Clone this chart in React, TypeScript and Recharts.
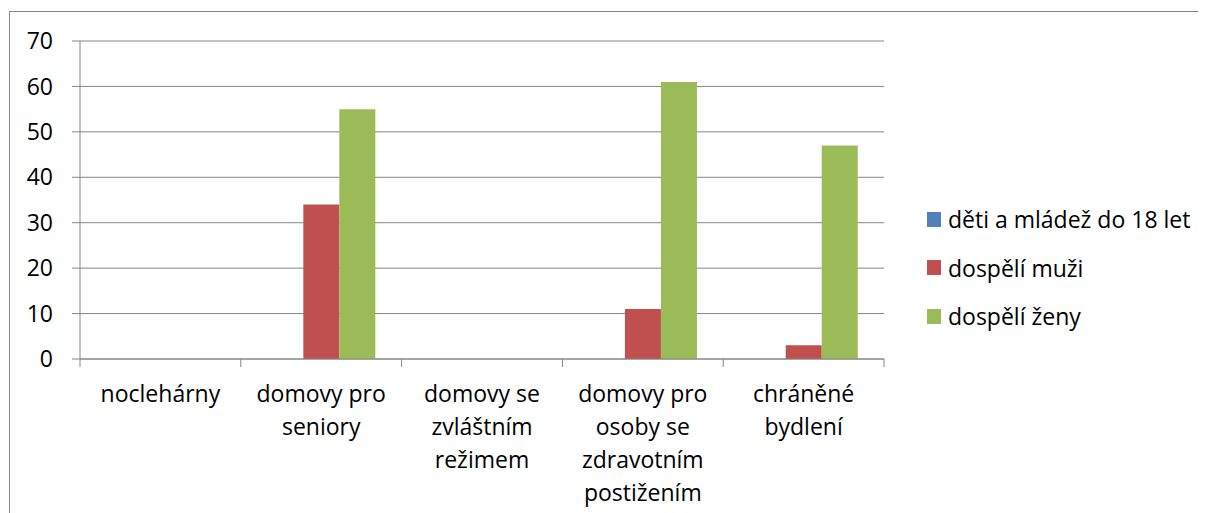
import React from "react";
import { BarChart, Bar, XAxis, YAxis, CartesianGrid, Legend } from "recharts";

const categories = [
  "noclehárny",
  "domovy pro seniory",
  "domovy se zvláštním režimem",
  "domovy pro osoby se zdravotním postižením",
  "chráněné bydlení",
];
const categoryLines = [
  ["noclehárny"],
  ["domovy pro", "seniory"],
  ["domovy se", "zvláštním", "režimem"],
  ["domovy pro", "osoby se", "zdravotním", "postižením"],
  ["chráněné", "bydlení"],
];
const seriesNames = ["děti a mládež do 18 let", "dospělí muži", "dospělí ženy"];
const deti = [0, 0, 0, 0, 0];
const muzi = [0, 34, 0, 11, 3];
const zeny = [0, 55, 0, 61, 47];
const yTicks = [0, 10, 20, 30, 40, 50, 60, 70];
const colors = ["#4F81BD", "#C0504D", "#9BBB59"];

const data = categories.map((name, i) => ({
  name,
  deti: deti[i],
  muzi: muzi[i],
  zeny: zeny[i],
}));

const FONT = "'Open Sans', sans-serif";
const FS = 23;
const GRID = "#868686";

const XTick = (props: any) => {
  const { x, y, payload, index, visibleTicksCount } = props;
  const off = payload && typeof payload.offset === "number" ? payload.offset : 0;
  const lines = categoryLines[payload.index ?? index] || [String(payload.value)];
  const isLast = index === (visibleTicksCount ?? categories.length) - 1;
  return (
    <g>
      <line x1={x - off} x2={x - off} y1={y} y2={y + 8} stroke={GRID} strokeWidth={1} />
      {isLast && (
        <line x1={x + off} x2={x + off} y1={y} y2={y + 8} stroke={GRID} strokeWidth={1} />
      )}
      <text x={x} y={y + 43} textAnchor="middle" fill="#000" fontSize={FS} fontFamily={FONT}>
        {lines.map((l: string, i: number) => (
          <tspan key={i} x={x} dy={i === 0 ? 0 : 33}>
            {l}
          </tspan>
        ))}
      </text>
    </g>
  );
};

const renderLegend = () => (
  <div style={{ fontFamily: FONT, fontSize: FS, color: "#000" }}>
    {seriesNames.map((n, i) => (
      <div key={n} style={{ height: 48.5, display: "flex", alignItems: "center", whiteSpace: "nowrap" }}>
        <span style={{ display: "inline-block", width: 14, height: 15, background: colors[i], marginRight: 7 }} />
        <span>{n}</span>
      </div>
    ))}
  </div>
);

export default function App() {
  return (
    <div style={{ position: "relative", width: 1198, height: 505 }}>
      <div
        style={{
          position: "absolute",
          left: 1,
          top: 3,
          width: 1197,
          height: 502,
          borderTop: "1px solid #878787",
          borderLeft: "1px solid #878787",
          boxSizing: "border-box",
        }}
      />
      <BarChart
        width={1198}
        height={505}
        data={data}
        margin={{ top: 33, right: 322, bottom: 14, left: 0 }}
        barCategoryGap="16.5%"
        barGap={0}
        style={{ position: "absolute", left: 0, top: 0 }}
      >
        <CartesianGrid vertical={false} stroke={GRID} strokeWidth={1} yAxisId={0} xAxisId={0} />
        <XAxis
          xAxisId={0}
          dataKey="name"
          type="category"
          height={140}
          tickSize={0}
          tickMargin={0}
          tickLine={false}
          axisLine={{ stroke: GRID, strokeWidth: 1 }}
          tick={<XTick />}
          interval={0}
        />
        <XAxis
          xAxisId="top"
          dataKey="name"
          type="category"
          orientation="top"
          height={0}
          tick={false}
          tickLine={false}
          axisLine={{ stroke: "#000", strokeWidth: 2 }}
        />
        <YAxis
          yAxisId={0}
          width={72}
          domain={[0, 70]}
          ticks={yTicks}
          interval={0}
          tickSize={8}
          tickMargin={19}
          tickLine={{ stroke: GRID }}
          axisLine={{ stroke: GRID, strokeWidth: 1 }}
          tick={{ fill: "#000", fontSize: FS, fontFamily: FONT }}
        />
        <YAxis
          yAxisId="right"
          orientation="right"
          width={0}
          domain={[0, 70]}
          tick={false}
          tickLine={false}
          axisLine={{ stroke: "#000", strokeWidth: 2 }}
        />
        <Legend
          layout="vertical"
          align="center"
          verticalAlign="middle"
          content={renderLegend}
          wrapperStyle={{ left: 919, top: 187, width: 280, height: 146 }}
        />
        <Bar xAxisId={0} yAxisId={0} dataKey="deti" name={seriesNames[0]} fill={colors[0]} isAnimationActive={false} />
        <Bar xAxisId={0} yAxisId={0} dataKey="muzi" name={seriesNames[1]} fill={colors[1]} isAnimationActive={false} />
        <Bar xAxisId={0} yAxisId={0} dataKey="zeny" name={seriesNames[2]} fill={colors[2]} isAnimationActive={false} />
      </BarChart>
    </div>
  );
}
